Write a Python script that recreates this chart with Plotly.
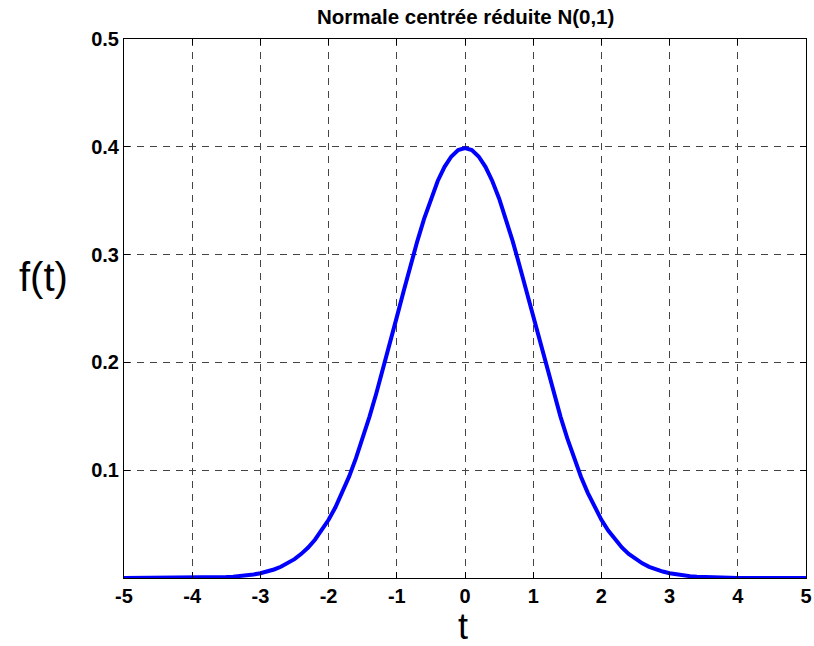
import plotly.graph_objects as go

t_values = [-5.0, -4.9, -4.8, -4.7, -4.6, -4.5, -4.4, -4.3, -4.2, -4.1,
            -4.0, -3.9, -3.8, -3.7, -3.6, -3.5, -3.4, -3.3, -3.2, -3.1,
            -3.0, -2.9, -2.8, -2.7, -2.6, -2.5, -2.4, -2.3, -2.2, -2.1,
            -2.0, -1.9, -1.8, -1.7, -1.6, -1.5, -1.4, -1.3, -1.2, -1.1,
            -1.0, -0.9, -0.8, -0.7, -0.6, -0.5, -0.4, -0.3, -0.2, -0.1,
            0.0,
            0.1, 0.2, 0.3, 0.4, 0.5, 0.6, 0.7, 0.8, 0.9, 1.0,
            1.1, 1.2, 1.3, 1.4, 1.5, 1.6, 1.7, 1.8, 1.9, 2.0,
            2.1, 2.2, 2.3, 2.4, 2.5, 2.6, 2.7, 2.8, 2.9, 3.0,
            3.1, 3.2, 3.3, 3.4, 3.5, 3.6, 3.7, 3.8, 3.9, 4.0,
            4.1, 4.2, 4.3, 4.4, 4.5, 4.6, 4.7, 4.8, 4.9, 5.0]
f_values = [0.0000, 0.0000, 0.0000, 0.0000, 0.0000, 0.0000, 0.0000, 0.0000, 0.0001, 0.0001,
            0.0001, 0.0002, 0.0003, 0.0004, 0.0006, 0.0009, 0.0012, 0.0017, 0.0024, 0.0033,
            0.0044, 0.0060, 0.0079, 0.0104, 0.0136, 0.0175, 0.0224, 0.0283, 0.0355, 0.0440,
            0.0540, 0.0656, 0.0790, 0.0940, 0.1109, 0.1295, 0.1497, 0.1714, 0.1942, 0.2179,
            0.2420, 0.2661, 0.2897, 0.3123, 0.3332, 0.3521, 0.3683, 0.3814, 0.3910, 0.3970,
            0.3989,
            0.3970, 0.3910, 0.3814, 0.3683, 0.3521, 0.3332, 0.3123, 0.2897, 0.2661, 0.2420,
            0.2179, 0.1942, 0.1714, 0.1497, 0.1295, 0.1109, 0.0940, 0.0790, 0.0656, 0.0540,
            0.0440, 0.0355, 0.0283, 0.0224, 0.0175, 0.0136, 0.0104, 0.0079, 0.0060, 0.0044,
            0.0033, 0.0024, 0.0017, 0.0012, 0.0009, 0.0006, 0.0004, 0.0003, 0.0002, 0.0001,
            0.0001, 0.0001, 0.0000, 0.0000, 0.0000, 0.0000, 0.0000, 0.0000, 0.0000, 0.0000]

x_ticks = [-5, -4, -3, -2, -1, 0, 1, 2, 3, 4, 5]
x_tick_labels = ["-5", "-4", "-3", "-2", "-1", "0", "1", "2", "3", "4", "5"]
y_ticks = [0.1, 0.2, 0.3, 0.4, 0.5]
y_tick_labels = ["0.1", "0.2", "0.3", "0.4", "0.5"]

title_text = "Normale centrée réduite N(0,1)"
x_label = "t"
y_label = "f(t)"

W, H = 814, 646
L, R, T, B = 124, 8, 39, 68
plot_h = H - T - B
plot_w = W - L - R

fig = go.Figure()
fig.add_trace(go.Scatter(x=t_values, y=f_values, mode="lines",
                         line=dict(color="#0000FF", width=4), showlegend=False,
                         cliponaxis=False))

tickfont = dict(family="Liberation Sans", size=20, color="black", weight="bold")
axis_common = dict(showline=True, linecolor="black", linewidth=1, mirror="ticks",
                   ticks="inside", ticklen=6, tickcolor="black", tickwidth=1,
                   showgrid=True, gridcolor="#444444", gridwidth=1, griddash="7px,6px",
                   zeroline=False, tickfont=tickfont, automargin=False)

fig.update_layout(
    width=W, height=H,
    margin=dict(l=L, r=R, t=T, b=B),
    paper_bgcolor="white", plot_bgcolor="white",
    xaxis=dict(range=[-5, 5], tickmode="array", tickvals=x_ticks, ticktext=x_tick_labels,
               **axis_common),
    yaxis=dict(range=[0, 0.5], tickmode="array", tickvals=y_ticks, ticktext=y_tick_labels,
               **axis_common),
    annotations=[
        dict(text=title_text, xref="paper", yref="paper", x=0.5, y=1 + (T - 17) / plot_h,
             xanchor="center", yanchor="middle", showarrow=False,
             font=dict(family="Liberation Sans", size=20.5, color="black", weight="bold")),
        dict(text=y_label, xref="paper", yref="paper", x=(43 - L) / plot_w, y=1 - (277 - T) / plot_h,
             xanchor="center", yanchor="middle", showarrow=False,
             font=dict(family="Liberation Sans", size=40, color="black")),
        dict(text=x_label, xref="paper", yref="paper", x=(463 - L) / plot_w, y=-(626 - (H - B)) / plot_h,
             xanchor="center", yanchor="middle", showarrow=False,
             font=dict(family="Liberation Sans", size=36, color="black")),
    ],
)

fig.write_html("out.html")
